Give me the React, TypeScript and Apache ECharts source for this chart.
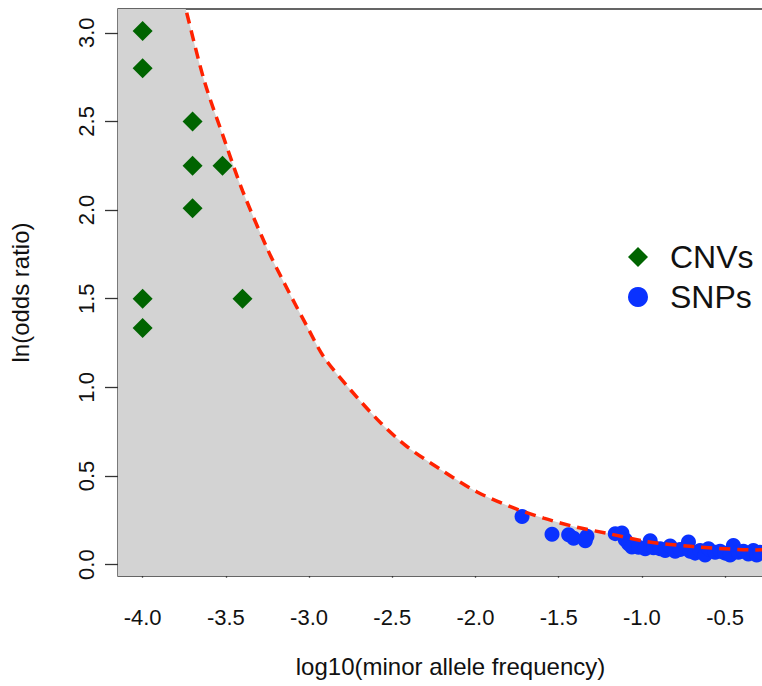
import React, { useEffect, useRef } from "react";
import * as echarts from "echarts";

// CNVs (green diamonds)
const cnvX = [-4.0, -4.0, -3.7, -3.7, -3.52, -3.7, -4.0, -3.4, -4.0];
const cnvY = [3.01, 2.8, 2.5, 2.25, 2.25, 2.01, 1.5, 1.5, 1.335];

// SNPs (blue circles)
const snpX = [
  -1.72, -1.54, -1.44, -1.41, -1.33, -1.34, -1.16, -1.12, -1.1, -1.08, -1.06, -1.02,
  -0.98, -0.95, -0.93, -0.89, -0.86, -0.83, -0.8, -0.77, -0.72, -0.71, -0.68, -0.65,
  -0.62, -0.6, -0.56, -0.53, -0.5, -0.47, -0.45, -0.42, -0.39, -0.36, -0.33, -0.31, -0.29,
];
const snpY = [
  0.272, 0.172, 0.168, 0.149, 0.16, 0.135, 0.175, 0.178, 0.14, 0.118, 0.1, 0.098,
  0.09, 0.135, 0.095, 0.09, 0.08, 0.105, 0.075, 0.085, 0.128, 0.075, 0.065, 0.08,
  0.055, 0.09, 0.07, 0.075, 0.065, 0.055, 0.108, 0.07, 0.075, 0.06, 0.08, 0.055, 0.07,
];

// dashed threshold curve
const curveX = [
  -4.15, -3.9, -3.8, -3.74, -3.63, -3.51, -3.4, -3.25, -3.15, -3.01, -2.91, -2.75,
  -2.57, -2.41, -2.19, -1.99, -1.79, -1.59, -1.39, -1.21, -0.97, -0.69, -0.31, -0.15,
];
const curveY = [
  5.0, 3.74, 3.34, 3.13, 2.73, 2.4, 2.11, 1.78, 1.59, 1.34, 1.17, 0.985,
  0.8, 0.665, 0.525, 0.41, 0.327, 0.262, 0.211, 0.177, 0.13, 0.102, 0.083, 0.09,
];

const xTicks = [-4.0, -3.5, -3.0, -2.5, -2.0, -1.5, -1.0, -0.5];
const yTicks = [0.0, 0.5, 1.0, 1.5, 2.0, 2.5, 3.0];

const FONT = "'Liberation Sans', Arial, Helvetica, sans-serif";

export default function App() {
  const ref = useRef<HTMLDivElement>(null);
  useEffect(() => {
    if (!ref.current) return;
    const chart = echarts.init(ref.current, undefined, { renderer: "svg" });
    const curve = curveX.map((x, i) => [x, curveY[i]]);
    chart.setOption({
      animation: false,
      backgroundColor: "#ffffff",
      textStyle: { fontFamily: FONT },
      grid: {
        left: 117,
        right: 17,
        top: 9,
        bottom: 110,
        show: true,
        borderColor: "#333",
        borderWidth: 1.3,
      },
      legend: {
        data: ["CNVs", "SNPs"],
        orient: "vertical",
        left: 628,
        top: 241,
        padding: 0,
        itemWidth: 20,
        itemHeight: 20,
        itemGap: 8,
        textStyle: { fontSize: 32, color: "#111", fontFamily: FONT, padding: [0, 0, 0, 17] },
      },
      xAxis: {
        type: "value",
        min: -4.148,
        max: -0.152,
        name: "log10(minor allele frequency)",
        nameLocation: "middle",
        nameGap: 78,
        nameTextStyle: { fontSize: 24, color: "#111", fontFamily: FONT },
        axisLine: { show: false },
        splitLine: { show: false },
        axisTick: {
          show: true,
          length: 13,
          customValues: xTicks,
          lineStyle: { color: "#333", width: 1.3 },
        },
        axisLabel: {
          customValues: xTicks,
          formatter: (v: number) => v.toFixed(1),
          fontSize: 22,
          color: "#111",
          margin: 30,
          fontFamily: FONT,
        },
      },
      yAxis: {
        type: "value",
        min: -0.064,
        max: 3.134,
        name: "ln(odds ratio)",
        nameLocation: "middle",
        nameGap: 86,
        nameTextStyle: { fontSize: 24, color: "#111", fontFamily: FONT },
        axisLine: { show: false },
        splitLine: { show: false },
        axisTick: {
          show: true,
          length: 13,
          customValues: yTicks,
          lineStyle: { color: "#333", width: 1.3 },
        },
        axisLabel: {
          customValues: yTicks,
          formatter: (v: number) => v.toFixed(1),
          fontSize: 22,
          color: "#111",
          margin: 21,
          rotate: 90,
          fontFamily: FONT,
        },
      },
      series: [
        {
          type: "line",
          name: "region",
          data: curve,
          symbol: "none",
          smooth: 0.3,
          lineStyle: { width: 0, opacity: 0 },
          areaStyle: { color: "#d3d3d3", opacity: 1, origin: "start" },
          silent: true,
          z: 1,
        },
        {
          type: "scatter",
          name: "CNVs",
          data: cnvX.map((x, i) => [x, cnvY[i]]),
          symbol: "diamond",
          symbolSize: 20,
          itemStyle: { color: "#006400", opacity: 1 },
          z: 2,
        },
        {
          type: "scatter",
          name: "SNPs",
          data: snpX.map((x, i) => [x, snpY[i]]),
          symbol: "circle",
          symbolSize: 15,
          itemStyle: { color: "#0a32ff", opacity: 1 },
          z: 2,
        },
        {
          type: "line",
          name: "threshold",
          data: curve,
          symbol: "none",
          smooth: 0.3,
          lineStyle: { color: "#ff2200", width: 3.5, type: [11, 7] },
          silent: true,
          z: 3,
        },
      ],
    });
    return () => chart.dispose();
  }, []);
  return (
    <div
      style={{
        position: "fixed",
        left: 0,
        top: 0,
        width: 762,
        height: 686,
        overflow: "hidden",
        background: "#fff",
      }}
    >
      <div ref={ref} style={{ width: 800, height: 686 }} />
    </div>
  );
}
